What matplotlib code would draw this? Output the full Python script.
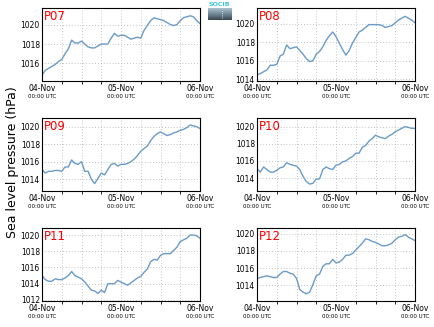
import numpy as np
import matplotlib
matplotlib.use('Agg')
import matplotlib.pyplot as plt
import matplotlib.dates as mdates
from matplotlib.colors import LinearSegmentedColormap

# hourly readings, 04-Nov 00:00 UTC to 06-Nov 00:00 UTC
start = np.datetime64('2015-11-04T00:00')
hours = np.arange(49)
times = start + hours.astype('timedelta64[h]')

stations = ['P07', 'P08', 'P09', 'P10', 'P11', 'P12']

p07 = [1014.8, 1015.3, 1015.5, 1015.7, 1015.9, 1016.2, 1016.4, 1017.0, 1017.5, 1018.4,
       1018.1, 1018.1, 1018.3, 1018.0, 1017.7, 1017.6, 1017.6, 1017.8, 1018.0, 1018.0,
       1018.0, 1018.6, 1019.1, 1018.8, 1018.9, 1018.9, 1018.7, 1018.5, 1018.6, 1018.7,
       1018.6, 1019.4, 1019.9, 1020.4, 1020.7, 1020.6, 1020.5, 1020.4, 1020.2, 1020.0,
       1019.9, 1020.0, 1020.4, 1020.7, 1020.8, 1020.9, 1020.8, 1020.4, 1020.1]
p08 = [1014.5, 1014.6, 1014.8, 1015.0, 1015.5, 1015.5, 1015.6, 1016.5, 1016.7, 1017.7,
       1017.3, 1017.4, 1017.5, 1017.1, 1016.7, 1016.2, 1015.9, 1016.0, 1016.7, 1017.0,
       1017.5, 1018.2, 1018.7, 1019.1, 1018.6, 1017.9, 1017.2, 1016.6, 1017.1, 1017.9,
       1018.5, 1019.1, 1019.3, 1019.6, 1019.9, 1019.9, 1019.9, 1019.9, 1019.8, 1019.6,
       1019.7, 1019.8, 1020.1, 1020.4, 1020.6, 1020.8, 1020.6, 1020.4, 1020.1]
p09 = [1015.1, 1014.7, 1014.9, 1014.9, 1015.0, 1015.0, 1014.9, 1015.4, 1015.4, 1016.2,
       1015.8, 1015.7, 1016.0, 1014.9, 1014.9, 1014.0, 1013.5, 1014.1, 1014.7, 1014.5,
       1015.1, 1015.7, 1015.8, 1015.5, 1015.7, 1015.7, 1015.8, 1016.0, 1016.3, 1016.7,
       1017.2, 1017.5, 1017.8, 1018.4, 1018.9, 1019.2, 1019.4, 1019.2, 1019.0, 1019.1,
       1019.3, 1019.4, 1019.6, 1019.7, 1019.9, 1020.2, 1020.1, 1020.0, 1019.8]
p10 = [1015.1, 1014.7, 1015.3, 1015.0, 1014.7, 1014.7, 1014.9, 1015.2, 1015.3, 1015.8,
       1015.6, 1015.5, 1015.4, 1015.0, 1014.2, 1013.6, 1013.3, 1013.4, 1013.9, 1013.9,
       1015.0, 1015.3, 1015.1, 1015.0, 1015.5, 1015.6, 1015.9, 1016.0, 1016.3, 1016.5,
       1016.9, 1016.9, 1017.6, 1017.8, 1018.3, 1018.6, 1019.0, 1018.8, 1018.7, 1018.6,
       1018.9, 1019.1, 1019.4, 1019.6, 1019.8, 1020.0, 1019.9, 1019.8, 1019.8]
p11 = [1015.0, 1014.5, 1014.3, 1014.3, 1014.6, 1014.5, 1014.5, 1014.7, 1015.0, 1015.5,
       1015.0, 1014.8, 1014.6, 1014.2, 1013.7, 1013.2, 1013.1, 1012.8, 1013.2, 1012.9,
       1014.0, 1014.0, 1014.0, 1014.4, 1014.2, 1014.0, 1013.8, 1014.1, 1014.4, 1014.7,
       1014.9, 1015.4, 1015.8, 1016.7, 1017.0, 1016.9, 1017.5, 1017.7, 1017.7, 1017.7,
       1018.1, 1018.5, 1019.2, 1019.4, 1019.6, 1020.0, 1020.0, 1019.9, 1019.6]
p12 = [1014.8, 1014.9, 1015.0, 1015.1, 1015.0, 1014.9, 1014.9, 1015.3, 1015.6, 1015.6,
       1015.4, 1015.3, 1014.8, 1013.5, 1013.2, 1013.0, 1013.2, 1014.1, 1015.1, 1015.3,
       1016.2, 1016.5, 1016.5, 1017.0, 1016.6, 1016.7, 1017.0, 1017.5, 1017.5, 1017.7,
       1018.1, 1018.5, 1018.9, 1019.4, 1019.3, 1019.1, 1019.0, 1018.8, 1018.6, 1018.6,
       1018.7, 1018.9, 1019.3, 1019.6, 1019.7, 1019.9, 1019.6, 1019.4, 1019.2]
series = [p07, p08, p09, p10, p11, p12]

ylims = [(1014.2, 1021.7), (1013.8, 1021.7), (1012.65, 1021.0),
         (1012.5, 1021.0), (1011.9, 1020.9), (1012.2, 1020.7)]

line_color = '#6b9bc7'

fig = plt.figure(figsize=(4.34, 3.27), dpi=100)

lefts = [42 / 434, 257 / 434]
bottoms = [1 - 81 / 327, 1 - 191 / 327, 1 - 300.7 / 327]
w, h = 158 / 434, 73 / 327

for i, (name, vals) in enumerate(zip(stations, series)):
    ax = fig.add_axes([lefts[i % 2], bottoms[i // 2], w, h])
    ax.plot(times, vals, color=line_color, lw=1.0)
    ax.set_xlim(times[0], times[-1])
    ax.set_ylim(*ylims[i])
    ax.yaxis.set_major_locator(plt.MultipleLocator(2))
    ax.xaxis.set_major_locator(mdates.HourLocator(byhour=[0]))
    ax.xaxis.set_major_formatter(mdates.DateFormatter('%d-%b'))
    ax.xaxis.set_minor_locator(mdates.HourLocator(byhour=[6, 12, 18]))
    ax.grid(True, which='both', color='#b0b0b0', ls=(0, (1, 2.5)), lw=0.6)
    ax.tick_params(length=0, labelsize=5.5, pad=2.5)
    ax.tick_params(axis='y', pad=1.5)
    for s in ax.spines.values():
        s.set_linewidth(0.8)
    for t in times[::24]:
        ax.annotate('00:00 UTC', xy=(t, 0), xycoords=('data', 'axes fraction'),
                    xytext=(0, -11.5), textcoords='offset points',
                    ha='center', va='center', fontsize=4)
    ax.text(0.012, 0.97, name, transform=ax.transAxes, color='red',
            fontsize=8.5, ha='left', va='top')

fig.text(13 / 434, 1 - 162 / 327, 'Sea level pressure (hPa)', rotation=90,
         ha='center', va='center', fontsize=9)

# small logo at top centre
logo = fig.add_axes([208 / 434, 1 - 20 / 327, 24 / 434, 12 / 327])
logo_cmap = LinearSegmentedColormap.from_list('logo', ['#a9c0cc', '#6f8896', '#3a4853'])
grad = np.linspace(0, 1, 20).reshape(-1, 1)
logo.imshow(grad, aspect='auto', cmap=logo_cmap, extent=(0, 1, 1, 0))
logo.axvline(0.6, ymin=0.15, ymax=0.8, color='white', ls=':', lw=0.6)
logo.set_xlim(0, 1)
logo.axis('off')
fig.text(219.5 / 434, 1 - 5 / 327, 'SOCIB', color='#3ec3d8', fontsize=4.5,
         ha='center', va='center', fontweight='bold')

fig.savefig('out.png', dpi=100)
